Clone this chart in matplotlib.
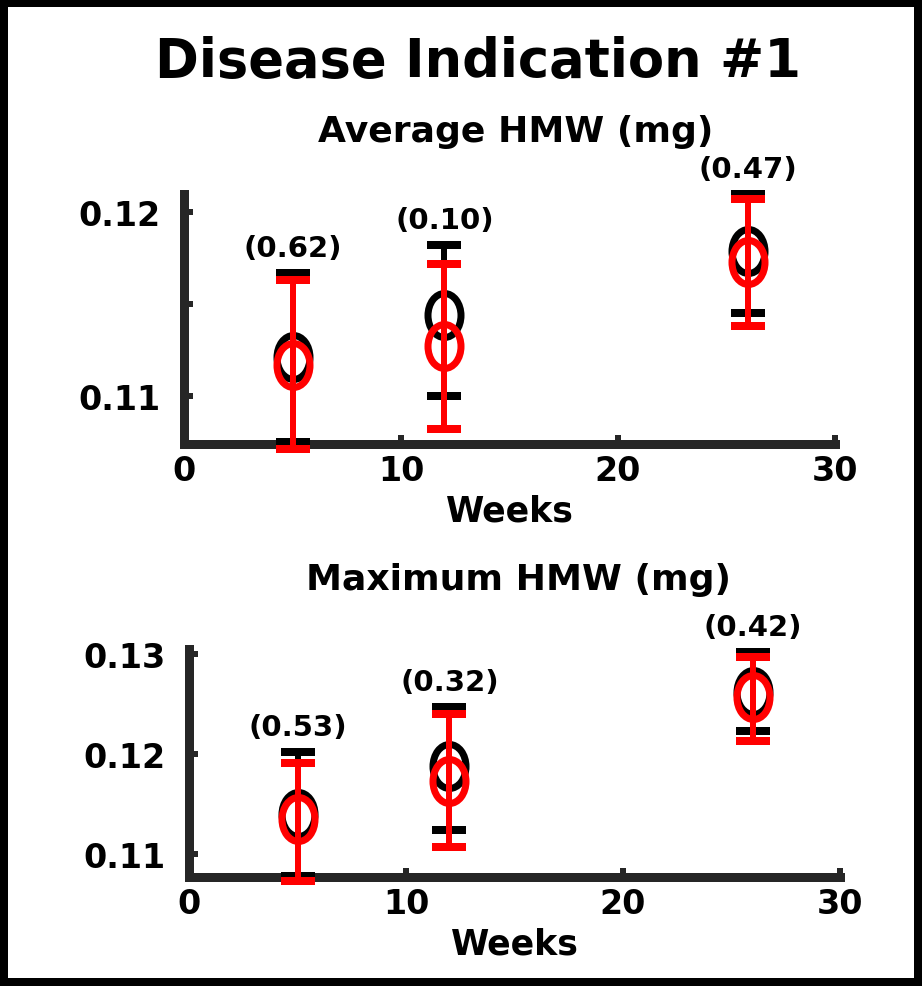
import numpy as np
import matplotlib.pyplot as plt
from matplotlib.path import Path
from matplotlib.patches import Rectangle

# Sampling weeks
weeks = [5, 12, 26]

# Average HMW (mg): black = reference group, red = comparison group
avg_black_mean = [0.1121, 0.1144, 0.1179]
avg_black_lo = [0.1075, 0.1100, 0.1145]
avg_black_hi = [0.1167, 0.1182, 0.1210]
avg_red_mean = [0.1117, 0.1127, 0.1173]
avg_red_lo = [0.1071, 0.1082, 0.1138]
avg_red_hi = [0.1163, 0.1172, 0.1207]
avg_pvals = ['(0.62)', '(0.10)', '(0.47)']

# Maximum HMW (mg)
max_black_mean = [0.1140, 0.1188, 0.1262]
max_black_lo = [0.1078, 0.1124, 0.1223]
max_black_hi = [0.1202, 0.1247, 0.1302]
max_red_mean = [0.1135, 0.1173, 0.1257]
max_red_lo = [0.1073, 0.1107, 0.1213]
max_red_hi = [0.1191, 0.1240, 0.1297]
max_pvals = ['(0.53)', '(0.32)', '(0.42)']

spine_color = '#262626'
red = '#ff0000'
px = 72 / 100  # points per pixel at dpi 100

# tall open ellipse marker
uc = Path.unit_circle()
ellipse = Path(uc.vertices * np.array([0.75, 1.0]), uc.codes)

fig = plt.figure(figsize=(9.22, 9.87), dpi=100)
fig.patch.set_facecolor('white')

W, H = 922, 987


def add_axes_px(left, right, top, bottom):
    return fig.add_axes([left / W, 1 - bottom / H, (right - left) / W, (bottom - top) / H])


def draw_series(ax, mean, lo, hi, color, z):
    mean = np.array(mean)
    yerr = [mean - np.array(lo), np.array(hi) - mean]
    ax.errorbar(weeks, mean, yerr=yerr, fmt='none', ecolor=color,
                elinewidth=6 * px, capsize=17 * px, capthick=8 * px,
                zorder=z, clip_on=False)
    ax.plot(weeks, mean, linestyle='none', marker=ellipse, markersize=44 * px,
            markerfacecolor='none', markeredgecolor=color, markeredgewidth=7 * px,
            zorder=z + 0.5, clip_on=False)


def style_axes(ax, ylim, yticks, yticklabels):
    ax.set_xlim(0, 30)
    ax.set_ylim(*ylim)
    ax.set_xticks([0, 10, 20, 30])
    ax.set_yticks(yticks)
    ax.set_yticklabels(yticklabels)
    for side in ['top', 'right']:
        ax.spines[side].set_visible(False)
    for side in ['left', 'bottom']:
        ax.spines[side].set_linewidth(9 * px)
        ax.spines[side].set_color(spine_color)
        ax.spines[side].set_capstyle('projecting')
    ax.tick_params(direction='in', length=9 * px, width=6 * px, color=spine_color,
                   labelsize=24)
    ax.tick_params(axis='y', pad=17)
    ax.tick_params(axis='x', pad=7)
    for lab in ax.get_xticklabels() + ax.get_yticklabels():
        lab.set_fontweight('bold')
    ax.patch.set_alpha(0)
    ax.set_xlabel('Weeks', fontsize=25, fontweight='bold', labelpad=5)


def label_pvals(ax, hi_a, hi_b, labels):
    for x, ya, yb, s in zip(weeks, hi_a, hi_b, labels):
        ax.annotate(s, (x, max(ya, yb)), xytext=(0, 8),
                    textcoords='offset points', ha='center', va='bottom',
                    fontsize=21, fontweight='bold', annotation_clip=False)


# Top panel: average HMW
ax1 = add_axes_px(184, 835, 195, 445)
draw_series(ax1, avg_black_mean, avg_black_lo, avg_black_hi, 'black', 3)
draw_series(ax1, avg_red_mean, avg_red_lo, avg_red_hi, red, 4)
style_axes(ax1, (0.10739, 0.12098), [0.11, 0.115, 0.12], ['0.11', '', '0.12'])
label_pvals(ax1, avg_black_hi, avg_red_hi, avg_pvals)

# Bottom panel: maximum HMW
ax2 = add_axes_px(189, 840, 650, 878)
draw_series(ax2, max_black_mean, max_black_lo, max_black_hi, 'black', 3)
draw_series(ax2, max_red_mean, max_red_lo, max_red_hi, red, 4)
style_axes(ax2, (0.1077, 0.1305), [0.11, 0.12, 0.13], ['0.11', '0.12', '0.13'])
label_pvals(ax2, max_black_hi, max_red_hi, max_pvals)

# Titles
fig.text(478 / W, 1 - 62 / H, 'Disease Indication #1', ha='center', va='center',
         fontsize=38, fontweight='bold')
fig.text(516 / W, 1 - 132 / H, 'Average HMW (mg)', ha='center', va='center',
         fontsize=26, fontweight='bold')
fig.text(518 / W, 1 - 580 / H, 'Maximum HMW (mg)', ha='center', va='center',
         fontsize=26, fontweight='bold')

# Outer frame
fig.patches.append(Rectangle((4 / W, 4 / H), 1 - 8 / W, 1 - 8 / H,
                             transform=fig.transFigure, fill=False,
                             edgecolor='black', linewidth=8 * px))

fig.savefig('out.png', dpi=100, facecolor='white')
